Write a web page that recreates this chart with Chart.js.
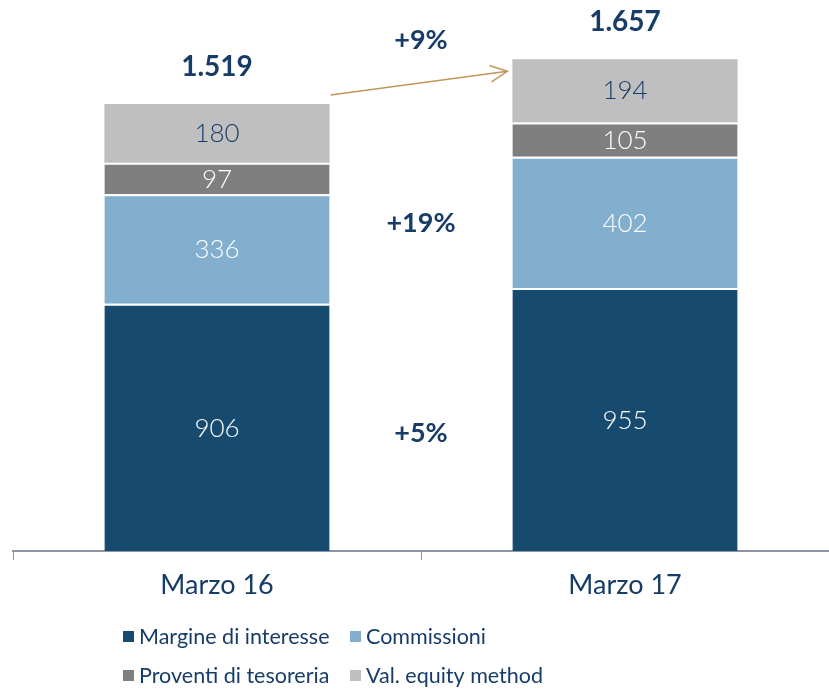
<!DOCTYPE html>
<html>
<head>
<meta charset="utf-8">
<script src="https://cdn.jsdelivr.net/npm/chart.js@4.4.1/dist/chart.umd.min.js"></script>
<style>
  html, body { margin: 0; padding: 0; background: #fff; }
  #wrap { width: 829px; height: 692px; position: relative; }
</style>
</head>
<body>
<div id="wrap"><canvas id="ricaviChart"></canvas></div>
<script>
// dati del grafico
const categorie = ['Marzo 16', 'Marzo 17'];
const margineInteresse = [906, 955];
const commissioni = [336, 402];
const proventiTesoreria = [97, 105];
const valEquity = [180, 194];
const totali = [1519, 1657];
const variazioni = ['+5%', '+19%', '+9%']; // margine, commissioni, totale

const NAVY = '#173c68';
const FONT = 'Lato, "Noto Sans", sans-serif';

function formatIt(v) {
    return String(v).replace(/\B(?=(\d{3})+(?!\d))/g, '.');
}

// etichette dentro i segmenti, totali, variazioni e freccia
const etichettePlugin = {
    id: 'etichette',
    afterDatasetsDraw(chart) {
        const ctx = chart.ctx;
        const area = chart.chartArea;
        const visMid = (b) => (b.y + Math.min(b.base, area.bottom)) / 2;
        ctx.save();
        ctx.textAlign = 'center';
        ctx.textBaseline = 'middle';

        // valori nei segmenti
        chart.data.datasets.forEach((ds, i) => {
            const meta = chart.getDatasetMeta(i);
            meta.data.forEach((bar, j) => {
                const mid = visMid(bar) + (i < 3 ? 1 : 0);
                ctx.font = '300 26px ' + FONT;
                ctx.fillStyle = i === 3 ? NAVY : '#ffffff';
                ctx.fillText(ds.data[j], bar.x, mid);
            });
        });

        // totali sopra le barre
        const topMeta = chart.getDatasetMeta(3);
        const totY = [];
        topMeta.data.forEach((bar, j) => {
            const y = bar.y - 37;
            totY.push(y);
            ctx.font = 'bold 28px ' + FONT;
            ctx.fillStyle = NAVY;
            ctx.fillText(formatIt(totali[j]), bar.x, y);
        });

        const b0 = topMeta.data[0], b1 = topMeta.data[1];
        const cx = (chart.scales.x.getPixelForValue(0) + chart.scales.x.getPixelForValue(1)) / 2;

        // variazioni percentuali
        const midOf = (dsIndex) => {
            const m = chart.getDatasetMeta(dsIndex).data;
            return m.reduce((s, b) => s + visMid(b), 0) / m.length;
        };
        ctx.font = 'bold 27px ' + FONT;
        ctx.fillStyle = NAVY;
        ctx.fillText(variazioni[0], cx, midOf(0) + 10);
        ctx.fillText(variazioni[1], cx, midOf(1) - 12);
        ctx.fillText(variazioni[2], cx, (totY[0] + totY[1]) / 2 - 4);

        // freccia
        const x0 = b0.x + b0.width / 2 + 1, y0 = b0.y - 9;
        const x1 = b1.x - b1.width / 2 - 5, y1 = b1.y + 12;
        ctx.strokeStyle = '#c0975a';
        ctx.lineWidth = 1.5;
        ctx.beginPath();
        ctx.moveTo(x0, y0);
        ctx.lineTo(x1, y1);
        const ang = Math.atan2(y1 - y0, x1 - x0);
        const len = 19;
        ctx.moveTo(x1 - len * Math.cos(ang - 0.45), y1 - len * Math.sin(ang - 0.45));
        ctx.lineTo(x1, y1);
        ctx.lineTo(x1 - len * Math.cos(ang + 0.45), y1 - len * Math.sin(ang + 0.45));
        ctx.stroke();
        ctx.restore();
    }
};

// legenda a griglia 2x2
const legendaPlugin = {
    id: 'legendaGriglia',
    afterDraw(chart) {
        const ctx = chart.ctx;
        const area = chart.chartArea;
        const colX = [area.left + 110, area.left + 337];
        const rowY = [area.bottom + 86, area.bottom + 125];
        ctx.save();
        ctx.font = '21.5px ' + FONT;
        ctx.textBaseline = 'middle';
        ctx.textAlign = 'left';
        chart.data.datasets.forEach((ds, i) => {
            const x = colX[i % 2], y = rowY[Math.floor(i / 2)];
            ctx.fillStyle = ds.backgroundColor;
            ctx.fillRect(x, y - 6, 11, 11);
            ctx.fillStyle = NAVY;
            ctx.fillText(ds.label, x + 16, y);
        });
        ctx.restore();
    }
};

const ctx = document.getElementById('ricaviChart').getContext('2d');
const ricaviChart = new Chart(ctx, {
    type: 'bar',
    data: {
        labels: categorie,
        datasets: [
            { label: 'Margine di interesse', data: margineInteresse, backgroundColor: '#164b6f', borderColor: '#ffffff', borderWidth: { top: 2 }, borderSkipped: false },
            { label: 'Commissioni', data: commissioni, backgroundColor: '#81afcd', borderColor: '#ffffff', borderWidth: { top: 2 }, borderSkipped: false },
            { label: 'Proventi di tesoreria', data: proventiTesoreria, backgroundColor: '#7f7f7f', borderColor: '#ffffff', borderWidth: { top: 2 }, borderSkipped: false },
            { label: 'Val. equity method', data: valEquity, backgroundColor: '#bfbfbf', borderWidth: 0 }
        ]
    },
    options: {
        responsive: true,
        maintainAspectRatio: false,
        animation: false,
        layout: { padding: { left: 13, right: 0, top: 0, bottom: 91 } },
        datasets: {
            bar: { barPercentage: 0.69, categoryPercentage: 0.8 }
        },
        plugins: {
            legend: { display: false },
            tooltip: { enabled: false }
        },
        scales: {
            x: {
                stacked: true,
                afterFit(scale) { scale.height = 50; },
                grid: {
                    display: true,
                    drawOnChartArea: false,
                    drawTicks: true,
                    tickLength: 9,
                    color: '#8f93a6',
                    offset: true
                },
                border: { display: true, color: '#8f93a6', width: 2 },
                ticks: { color: NAVY, font: { family: FONT, size: 27 }, padding: 9 }
            },
            y: {
                stacked: true,
                display: false,
                min: 148,
                max: 1838
            }
        }
    },
    plugins: [etichettePlugin, legendaPlugin]
});
</script>
</body>
</html>
